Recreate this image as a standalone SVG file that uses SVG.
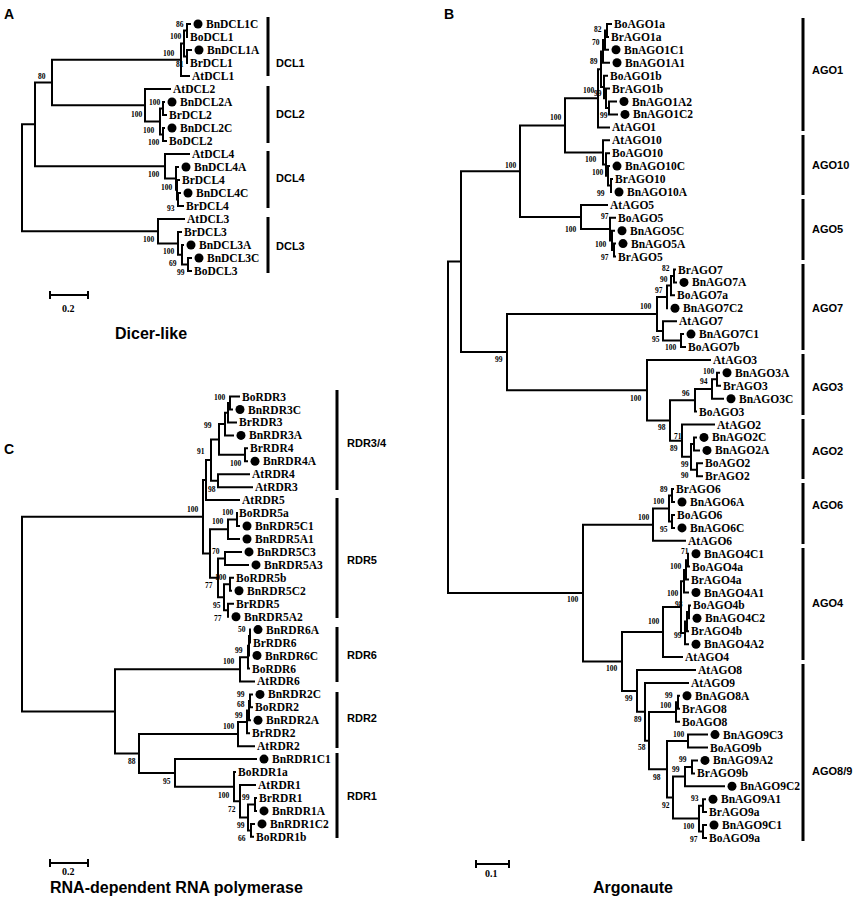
<svg xmlns="http://www.w3.org/2000/svg" width="856" height="900" viewBox="0 0 856 900">
<style>
.br{stroke:#000;stroke-width:2;fill:none;stroke-linecap:square}
.bar{stroke:#000;stroke-width:3}
.sc{stroke:#000;stroke-width:2;fill:none}
.t{font-family:"Liberation Serif","Times New Roman",serif;font-weight:bold;font-size:11.5px;fill:#000}
.b{font-family:"Liberation Serif","Times New Roman",serif;font-weight:bold;font-size:7.5px;fill:#000}
.s{font-family:"Liberation Serif","Times New Roman",serif;font-weight:bold;font-size:10px;fill:#000}
.c{font-family:"Liberation Sans",Arial,sans-serif;font-weight:bold;font-size:11px;fill:#000}
.h{font-family:"Liberation Sans",Arial,sans-serif;font-weight:bold;font-size:16px;fill:#000}
.p{font-family:"Liberation Sans",Arial,sans-serif;font-weight:bold;font-size:14px;fill:#000}
circle{fill:#000}
</style>
<rect width="856" height="900" fill="#fff"/>

<!-- Panel A -->
<g id="panelA">
<text class="p" x="4" y="19">A</text>
<g id="A-connectors">
<path class="br" d="M22 124.3V231.2M22 124.3H35M22 231.2H158
M35 82.5V166.2M35 82.5H52M35 166.2H165
M52 59.8V105.3M52 59.8H181M52 105.3H145
M181 43.5V76M181 43.5H184M181 76H189
M184 30.5V56.5M184 30.5H187M184 56.5H187
M187 24V37M187 24H190
M187 50V63M187 50H191
M145 89V121.5M145 89H170M145 121.5H160
M160 108.5V134.5M160 108.5H163M160 134.5H163
M163 102V115M163 102H164M163 115H166
M163 128V141M163 128H164M163 141H166
M165 154V178.4M165 154H189M165 178.4H176
M176 167V189.8M176 167H178M176 189.8H177
M177 180V199.5M177 180H179M177 199.5H178
M178 193V206M178 193H180M178 206H183
M158 219V243.4M158 219H184M158 243.4H178
M178 232V254.8M178 232H181M178 254.8H182
M182 245V264.5M182 245H183M182 264.5H188
M188 258V271M188 258H191M188 271H191"/>
</g>
<g id="A-taxa">
<g id="BnDCL1C"><circle cx="198" cy="24" r="4.5"/><text class="t" x="206" y="28">BnDCL1C</text></g>
<g id="BoDCL1"><text class="t" x="190" y="41">BoDCL1</text></g>
<g id="BnDCL1A"><circle cx="199" cy="50" r="4.5"/><text class="t" x="207" y="54">BnDCL1A</text></g>
<g id="BrDCL1"><text class="t" x="190" y="67">BrDCL1</text></g>
<g id="AtDCL1"><text class="t" x="192" y="80">AtDCL1</text></g>
<g id="AtDCL2"><text class="t" x="173" y="93">AtDCL2</text></g>
<g id="BnDCL2A"><circle cx="172" cy="102" r="4.5"/><text class="t" x="180" y="106">BnDCL2A</text></g>
<g id="BrDCL2"><text class="t" x="169" y="119">BrDCL2</text></g>
<g id="BnDCL2C"><circle cx="172" cy="128" r="4.5"/><text class="t" x="180" y="132">BnDCL2C</text></g>
<g id="BoDCL2"><text class="t" x="169" y="145">BoDCL2</text></g>
<g id="AtDCL4"><text class="t" x="192" y="158">AtDCL4</text></g>
<g id="BnDCL4A"><circle cx="186" cy="167" r="4.5"/><text class="t" x="194" y="171">BnDCL4A</text></g>
<g id="BrDCL4-1"><text class="t" x="182" y="184">BrDCL4</text></g>
<g id="BnDCL4C"><circle cx="188" cy="193" r="4.5"/><text class="t" x="196" y="197">BnDCL4C</text></g>
<g id="BrDCL4-2"><text class="t" x="186" y="210">BrDCL4</text></g>
<g id="AtDCL3"><text class="t" x="187" y="223">AtDCL3</text></g>
<g id="BrDCL3"><text class="t" x="184" y="236">BrDCL3</text></g>
<g id="BnDCL3A"><circle cx="191" cy="245" r="4.5"/><text class="t" x="199" y="249">BnDCL3A</text></g>
<g id="BnDCL3C"><circle cx="199" cy="258" r="4.5"/><text class="t" x="207" y="262">BnDCL3C</text></g>
<g id="BoDCL3"><text class="t" x="194" y="275">BoDCL3</text></g>
</g>
<g id="A-bootstrap">
<text class="b" x="38" y="79">80</text>
<text class="b" x="163" y="56">100</text>
<text class="b" x="170" y="39">100</text>
<text class="b" x="176" y="27">86</text>
<text class="b" x="176" y="67">81</text>
<text class="b" x="131" y="117">100</text>
<text class="b" x="149" y="105">100</text>
<text class="b" x="143" y="133">100</text>
<text class="b" x="148" y="145">100</text>
<text class="b" x="148" y="177">100</text>
<text class="b" x="161" y="190">100</text>
<text class="b" x="167" y="211">93</text>
<text class="b" x="143" y="242">100</text>
<text class="b" x="163" y="254">100</text>
<text class="b" x="169" y="266">69</text>
<text class="b" x="177" y="275">99</text>
</g>
<g id="A-clades">
<path class="bar" d="M268 17V76M268 86V143M268 151V208M268 217V273"/>
<text class="c" x="276" y="67">DCL1</text>
<text class="c" x="276" y="118">DCL2</text>
<text class="c" x="276" y="182">DCL4</text>
<text class="c" x="276" y="250">DCL3</text>
</g>
<g id="A-scale">
<path class="sc" d="M50 295H88M50 291V299M88 291V299"/>
<text class="s" x="62" y="312">0.2</text>
</g>
<text class="h" x="115" y="339">Dicer-like</text>
</g>

<!-- Panel B -->
<g id="panelB">
<text class="p" x="444" y="19">B</text>
<g id="B-connectors">
<path class="br" d="M448 261.6V593.1M448 261.6H461M448 593.1H583
M461 171.2V352.1M461 171.2H520M461 352.1H507
M520 125.4V217M520 125.4H565M520 217H581
M565 98.3V152.4M565 98.3H598M565 152.4H603
M598 69.2V127.4M598 69.2H601M598 127.4H609
M601 51.5V87M601 51.5H603M601 87H604
M603 40.1V62.8M603 40.1H605M603 62.8H609
M605 30.5V49.8M605 30.5H607M605 49.8H608
M607 24V36.9M607 24H611M607 36.9H608
M604 75.7V98.3M604 75.7H607M604 98.3H606
M606 88.6V108M606 88.6H609M606 108H609
M609 101.5V114.4M609 101.5H616M609 114.4H617
M603 140.3V164.5M603 140.3H609M603 164.5H606
M606 153.2V175.8M606 153.2H609M606 175.8H608
M608 166.1V185.5M608 166.1H609M608 185.5H611
M611 179V192M611 179H612
M581 204.9V229.1M581 204.9H607M581 229.1H610
M610 217.8V240.4M610 217.8H615M610 240.4H612
M612 230.7V250.1M612 230.7H614M612 250.1H614
M614 243.6V256.6M614 243.6H615M614 256.6H615
M507 313.9V390.2M507 313.9H657M507 390.2H647
M657 296.9V330.9M657 296.9H667M657 330.9H663
M667 285.6V308.2M667 285.6H671
M671 276V295.3M671 276H674M671 295.3H674
M674 269.5V282.4M674 269.5H675M674 282.4H676
M663 321.2V340.6M663 321.2H676M663 340.6H681
M681 334.1V347M681 334.1H683M681 347H685
M647 359.9V420.5M647 359.9H710M647 420.5H670
M670 400.3V440.7M670 400.3H695M670 440.7H682
M695 389V411.6M695 389H712M695 411.6H696
M712 379.3V398.7M712 379.3H717M712 398.7H723
M717 372.8V385.8M717 372.8H719M717 385.8H720
M682 424.5V456.8M682 424.5H714M682 456.8H691
M691 443.9V469.8M691 443.9H694M691 469.8H697
M694 437.4V450.4M694 437.4H696M694 450.4H699
M697 463.3V476.2M697 463.3H702M697 476.2H702
M583 524.7V661.5M583 524.7H653M583 661.5H622
M653 508.5V540.8M653 508.5H669M653 540.8H685
M669 495.6V521.5M669 495.6H672M669 521.5H672
M672 489.1V502M672 489.1H673M672 502H674
M672 515V527.9M672 515H674M672 527.9H674
M622 632.1V690.9M622 632.1H663M622 690.9H637
M663 607V657.1M663 607H681M663 657.1H682
M681 581.2V632.9M681 581.2H684M681 632.9H685
M684 569.9V592.5M684 569.9H686M684 592.5H688
M686 560.2V579.6M686 560.2H688M686 579.6H688
M688 553.7V566.6M688 566.6H689
M685 621.5V644.2M685 621.5H687M685 644.2H688
M687 611.9V631.2M687 611.9H689M687 631.2H688
M689 605.4V618.3M689 605.4H690
M637 670V711.8M637 670H695M637 711.8H645
M645 682.9V740.7M645 682.9H688M645 740.7H649
M649 712V769.3M649 712H676M649 769.3H667
M676 702.3V721.7M676 702.3H678M676 721.7H679
M678 695.8V708.8M678 695.8H679M678 708.8H679
M667 741.1V797.6M667 741.1H688M667 797.6H673
M688 734.6V747.5M688 734.6H707M688 747.5H707
M673 776.6V818.6M673 776.6H685M673 818.6H699
M685 766.9V786.3M685 766.9H692M685 786.3H724
M692 760.4V773.4M692 760.4H697M692 773.4H694
M699 805.7V831.5M699 805.7H703M699 831.5H703
M703 799.2V812.1M703 799.2H705M703 812.1H706
M703 825V838M703 825H706M703 838H706"/>
</g>
<g id="B-taxa">
<g id="BoAGO1a"><text class="t" x="614" y="28">BoAGO1a</text></g>
<g id="BrAGO1a"><text class="t" x="611" y="40.9">BrAGO1a</text></g>
<g id="BnAGO1C1"><circle cx="616" cy="49.8" r="4.5"/><text class="t" x="624" y="53.8">BnAGO1C1</text></g>
<g id="BnAGO1A1"><circle cx="617" cy="62.8" r="4.5"/><text class="t" x="625" y="66.8">BnAGO1A1</text></g>
<g id="BoAGO1b"><text class="t" x="610" y="79.7">BoAGO1b</text></g>
<g id="BrAGO1b"><text class="t" x="612" y="92.6">BrAGO1b</text></g>
<g id="BnAGO1A2"><circle cx="624" cy="101.5" r="4.5"/><text class="t" x="632" y="105.5">BnAGO1A2</text></g>
<g id="BnAGO1C2"><circle cx="625" cy="114.4" r="4.5"/><text class="t" x="633" y="118.4">BnAGO1C2</text></g>
<g id="AtAGO1"><text class="t" x="612" y="131.4">AtAGO1</text></g>
<g id="AtAGO10"><text class="t" x="612" y="144.3">AtAGO10</text></g>
<g id="BoAGO10"><text class="t" x="612" y="157.2">BoAGO10</text></g>
<g id="BnAGO10C"><circle cx="617" cy="166.1" r="4.5"/><text class="t" x="625" y="170.1">BnAGO10C</text></g>
<g id="BrAGO10"><text class="t" x="615" y="183">BrAGO10</text></g>
<g id="BnAGO10A"><circle cx="619" cy="192" r="4.5"/><text class="t" x="627" y="196">BnAGO10A</text></g>
<g id="AtAGO5"><text class="t" x="610" y="208.9">AtAGO5</text></g>
<g id="BoAGO5"><text class="t" x="618" y="221.8">BoAGO5</text></g>
<g id="BnAGO5C"><circle cx="622" cy="230.7" r="4.5"/><text class="t" x="630" y="234.7">BnAGO5C</text></g>
<g id="BnAGO5A"><circle cx="623" cy="243.6" r="4.5"/><text class="t" x="631" y="247.6">BnAGO5A</text></g>
<g id="BrAGO5"><text class="t" x="618" y="260.6">BrAGO5</text></g>
<g id="BrAGO7"><text class="t" x="678" y="273.5">BrAGO7</text></g>
<g id="BnAGO7A"><circle cx="684" cy="282.4" r="4.5"/><text class="t" x="692" y="286.4">BnAGO7A</text></g>
<g id="BoAGO7a"><text class="t" x="677" y="299.3">BoAGO7a</text></g>
<g id="BnAGO7C2"><circle cx="675" cy="308.2" r="4.5"/><text class="t" x="683" y="312.2">BnAGO7C2</text></g>
<g id="AtAGO7"><text class="t" x="679" y="325.2">AtAGO7</text></g>
<g id="BnAGO7C1"><circle cx="691" cy="334.1" r="4.5"/><text class="t" x="699" y="338.1">BnAGO7C1</text></g>
<g id="BoAGO7b"><text class="t" x="688" y="351">BoAGO7b</text></g>
<g id="AtAGO3"><text class="t" x="713" y="363.9">AtAGO3</text></g>
<g id="BnAGO3A"><circle cx="727" cy="372.8" r="4.5"/><text class="t" x="735" y="376.8">BnAGO3A</text></g>
<g id="BrAGO3"><text class="t" x="723" y="389.8">BrAGO3</text></g>
<g id="BnAGO3C"><circle cx="731" cy="398.7" r="4.5"/><text class="t" x="739" y="402.7">BnAGO3C</text></g>
<g id="BoAGO3"><text class="t" x="699" y="415.6">BoAGO3</text></g>
<g id="AtAGO2"><text class="t" x="717" y="428.5">AtAGO2</text></g>
<g id="BnAGO2C"><circle cx="704" cy="437.4" r="4.5"/><text class="t" x="712" y="441.4">BnAGO2C</text></g>
<g id="BnAGO2A"><circle cx="707" cy="450.4" r="4.5"/><text class="t" x="715" y="454.4">BnAGO2A</text></g>
<g id="BoAGO2"><text class="t" x="705" y="467.3">BoAGO2</text></g>
<g id="BrAGO2"><text class="t" x="705" y="480.2">BrAGO2</text></g>
<g id="BrAGO6"><text class="t" x="676" y="493.1">BrAGO6</text></g>
<g id="BnAGO6A"><circle cx="682" cy="502" r="4.5"/><text class="t" x="690" y="506">BnAGO6A</text></g>
<g id="BoAGO6"><text class="t" x="677" y="519">BoAGO6</text></g>
<g id="BnAGO6C"><circle cx="682" cy="527.9" r="4.5"/><text class="t" x="690" y="531.9">BnAGO6C</text></g>
<g id="AtAGO6"><text class="t" x="688" y="544.8">AtAGO6</text></g>
<g id="BnAGO4C1"><circle cx="696" cy="553.7" r="4.5"/><text class="t" x="704" y="557.7">BnAGO4C1</text></g>
<g id="BoAGO4a"><text class="t" x="692" y="570.6">BoAGO4a</text></g>
<g id="BrAGO4a"><text class="t" x="691" y="583.6">BrAGO4a</text></g>
<g id="BnAGO4A1"><circle cx="696" cy="592.5" r="4.5"/><text class="t" x="704" y="596.5">BnAGO4A1</text></g>
<g id="BoAGO4b"><text class="t" x="693" y="609.4">BoAGO4b</text></g>
<g id="BnAGO4C2"><circle cx="697" cy="618.3" r="4.5"/><text class="t" x="705" y="622.3">BnAGO4C2</text></g>
<g id="BrAGO4b"><text class="t" x="691" y="635.2">BrAGO4b</text></g>
<g id="BnAGO4A2"><circle cx="696" cy="644.2" r="4.5"/><text class="t" x="704" y="648.2">BnAGO4A2</text></g>
<g id="AtAGO4"><text class="t" x="685" y="661.1">AtAGO4</text></g>
<g id="AtAGO8"><text class="t" x="698" y="674">AtAGO8</text></g>
<g id="AtAGO9"><text class="t" x="691" y="686.9">AtAGO9</text></g>
<g id="BnAGO8A"><circle cx="687" cy="695.8" r="4.5"/><text class="t" x="695" y="699.8">BnAGO8A</text></g>
<g id="BrAGO8"><text class="t" x="682" y="712.8">BrAGO8</text></g>
<g id="BoAGO8"><text class="t" x="682" y="725.7">BoAGO8</text></g>
<g id="BnAGO9C3"><circle cx="715" cy="734.6" r="4.5"/><text class="t" x="723" y="738.6">BnAGO9C3</text></g>
<g id="BoAGO9b"><text class="t" x="710" y="751.5">BoAGO9b</text></g>
<g id="BnAGO9A2"><circle cx="705" cy="760.4" r="4.5"/><text class="t" x="713" y="764.4">BnAGO9A2</text></g>
<g id="BrAGO9b"><text class="t" x="697" y="777.4">BrAGO9b</text></g>
<g id="BnAGO9C2"><circle cx="732" cy="786.3" r="4.5"/><text class="t" x="740" y="790.3">BnAGO9C2</text></g>
<g id="BnAGO9A1"><circle cx="713" cy="799.2" r="4.5"/><text class="t" x="721" y="803.2">BnAGO9A1</text></g>
<g id="BrAGO9a"><text class="t" x="709" y="816.1">BrAGO9a</text></g>
<g id="BnAGO9C1"><circle cx="714" cy="825" r="4.5"/><text class="t" x="722" y="829">BnAGO9C1</text></g>
<g id="BoAGO9a"><text class="t" x="709" y="842">BoAGO9a</text></g>
</g>
<g id="B-bootstrap">
<text class="b" x="594" y="32">82</text>
<text class="b" x="592" y="45">70</text>
<text class="b" x="590" y="64">89</text>
<text class="b" x="583" y="93">100</text>
<text class="b" x="594" y="96">99</text>
<text class="b" x="600" y="118">99</text>
<text class="b" x="550" y="120">100</text>
<text class="b" x="505" y="168">100</text>
<text class="b" x="585" y="162">100</text>
<text class="b" x="592" y="175">100</text>
<text class="b" x="597" y="196">99</text>
<text class="b" x="601" y="219">97</text>
<text class="b" x="565" y="232">100</text>
<text class="b" x="595" y="247">100</text>
<text class="b" x="601" y="260">97</text>
<text class="b" x="662" y="271">82</text>
<text class="b" x="660" y="282">90</text>
<text class="b" x="655" y="293">97</text>
<text class="b" x="640" y="309">100</text>
<text class="b" x="652" y="342">95</text>
<text class="b" x="665" y="350">100</text>
<text class="b" x="495" y="362">99</text>
<text class="b" x="703" y="374">100</text>
<text class="b" x="700" y="384">94</text>
<text class="b" x="682" y="396">96</text>
<text class="b" x="630" y="401">100</text>
<text class="b" x="658" y="430">98</text>
<text class="b" x="674" y="439">71</text>
<text class="b" x="670" y="451">89</text>
<text class="b" x="681" y="467">99</text>
<text class="b" x="681" y="478">90</text>
<text class="b" x="660" y="492">89</text>
<text class="b" x="653" y="504">100</text>
<text class="b" x="638" y="520">100</text>
<text class="b" x="660" y="532">95</text>
<text class="b" x="681" y="554">71</text>
<text class="b" x="670" y="569">100</text>
<text class="b" x="667" y="596">100</text>
<text class="b" x="567" y="602">100</text>
<text class="b" x="675" y="607">98</text>
<text class="b" x="648" y="624">100</text>
<text class="b" x="674" y="638">99</text>
<text class="b" x="606" y="671">100</text>
<text class="b" x="625" y="701">99</text>
<text class="b" x="665" y="698">99</text>
<text class="b" x="660" y="708">100</text>
<text class="b" x="634" y="722">89</text>
<text class="b" x="673" y="737">100</text>
<text class="b" x="638" y="750">58</text>
<text class="b" x="679" y="762">99</text>
<text class="b" x="672" y="772">99</text>
<text class="b" x="653" y="780">98</text>
<text class="b" x="662" y="808">92</text>
<text class="b" x="691" y="801">93</text>
<text class="b" x="683" y="829">100</text>
<text class="b" x="690" y="842">97</text>
</g>
<g id="B-clades">
<path class="bar" d="M803 18V131M803 135V195M803 199V260M803 264V350M803 354V415M803 419V479M803 483V544M803 548V660M803 664V841"/>
<text class="c" x="812" y="74">AGO1</text>
<text class="c" x="812" y="169">AGO10</text>
<text class="c" x="812" y="233">AGO5</text>
<text class="c" x="812" y="312">AGO7</text>
<text class="c" x="812" y="391">AGO3</text>
<text class="c" x="812" y="455">AGO2</text>
<text class="c" x="812" y="509">AGO6</text>
<text class="c" x="812" y="607">AGO4</text>
<text class="c" x="812" y="775">AGO8/9</text>
</g>
<g id="B-scale">
<path class="sc" d="M476 864H509M476 860V868M509 860V868"/>
<text class="s" x="485" y="877">0.1</text>
</g>
<text class="h" x="593" y="893">Argonaute</text>
</g>

<!-- Panel C -->
<g id="panelC">
<text class="p" x="4" y="454">C</text>
<g id="C-connectors">
<path class="br" d="M22 516.8V711.4M22 516.8H203M22 711.4H115
M203 480.1V553.6M203 480.1H206M203 553.6H210
M206 460.1V500.1M206 460.1H211M206 500.1H239
M211 439.4V480.7M211 439.4H219M211 480.7H218
M219 424.1V454.8M219 424.1H225M219 454.8H245
M225 412.7V435.4M225 412.7H228M225 435.4H233
M228 403V422.4M228 403H230M228 422.4H236
M230 396.5V409.5M230 396.5H239M230 409.5H232
M245 448.3V461.3M245 448.3H247M245 461.3H247
M218 474.2V487.2M218 474.2H249M218 487.2H252
M210 529.3V577.8M210 529.3H228M210 577.8H218
M228 519.6V539M228 519.6H237M228 539H239
M237 513.1V526M237 526H239
M218 558.4V597.3M218 558.4H225M218 597.3H224
M225 551.9V564.9M225 551.9H241M225 564.9H248
M224 584.3V610.2M224 584.3H230M224 610.2H228
M230 577.8V590.8M230 577.8H233M230 590.8H231
M228 603.7V616.7M228 603.7H233
M115 669.3V753.5M115 669.3H240M115 753.5H139
M240 657.2V681.4M240 657.2H248M240 681.4H254
M248 645.8V668.5M248 645.8H249M248 668.5H249
M249 636.1V655.5M249 636.1H250
M250 629.6V642.6
M139 734.1V772.9M139 734.1H238M139 772.9H175
M238 721.9V746.2M238 721.9H247M238 746.2H254
M247 710.6V733.2M247 710.6H249M247 733.2H249
M249 700.9V720.3M249 700.9H250M249 720.3H250
M250 694.4V707.3M250 694.4H252M250 707.3H252
M175 759.1V786.7M175 759.1H256M175 786.7H234
M234 772.1V801.2M234 772.1H235M234 801.2H240
M240 785V817.4M240 785H255M240 817.4H248
M248 804.5V830.4M248 804.5H255M248 830.4H251
M255 798V810.9M255 798H256M255 810.9H256
M251 823.9V836.8M251 823.9H254M251 836.8H253"/>
</g>
<g id="C-taxa">
<g id="BoRDR3"><text class="t" x="242" y="400.5">BoRDR3</text></g>
<g id="BnRDR3C"><circle cx="240" cy="409.5" r="4.5"/><text class="t" x="248" y="413.5">BnRDR3C</text></g>
<g id="BrRDR3"><text class="t" x="239" y="426.4">BrRDR3</text></g>
<g id="BnRDR3A"><circle cx="241" cy="435.4" r="4.5"/><text class="t" x="249" y="439.4">BnRDR3A</text></g>
<g id="BrRDR4"><text class="t" x="250" y="452.3">BrRDR4</text></g>
<g id="BnRDR4A"><circle cx="255" cy="461.3" r="4.5"/><text class="t" x="263" y="465.3">BnRDR4A</text></g>
<g id="AtRDR4"><text class="t" x="252" y="478.2">AtRDR4</text></g>
<g id="AtRDR3"><text class="t" x="255" y="491.2">AtRDR3</text></g>
<g id="AtRDR5"><text class="t" x="242" y="504.1">AtRDR5</text></g>
<g id="BoRDR5a"><text class="t" x="239" y="517.1">BoRDR5a</text></g>
<g id="BnRDR5C1"><circle cx="247" cy="526" r="4.5"/><text class="t" x="255" y="530">BnRDR5C1</text></g>
<g id="BnRDR5A1"><circle cx="247" cy="539" r="4.5"/><text class="t" x="255" y="543">BnRDR5A1</text></g>
<g id="BnRDR5C3"><circle cx="249" cy="551.9" r="4.5"/><text class="t" x="257" y="555.9">BnRDR5C3</text></g>
<g id="BnRDR5A3"><circle cx="256" cy="564.9" r="4.5"/><text class="t" x="264" y="568.9">BnRDR5A3</text></g>
<g id="BoRDR5b"><text class="t" x="236" y="581.8">BoRDR5b</text></g>
<g id="BnRDR5C2"><circle cx="239" cy="590.8" r="4.5"/><text class="t" x="247" y="594.8">BnRDR5C2</text></g>
<g id="BrRDR5"><text class="t" x="236" y="607.7">BrRDR5</text></g>
<g id="BnRDR5A2"><circle cx="236" cy="616.7" r="4.5"/><text class="t" x="244" y="620.7">BnRDR5A2</text></g>
<g id="BnRDR6A"><circle cx="258" cy="629.6" r="4.5"/><text class="t" x="266" y="633.6">BnRDR6A</text></g>
<g id="BrRDR6"><text class="t" x="253" y="646.6">BrRDR6</text></g>
<g id="BnRDR6C"><circle cx="257" cy="655.5" r="4.5"/><text class="t" x="265" y="659.5">BnRDR6C</text></g>
<g id="BoRDR6"><text class="t" x="252" y="672.5">BoRDR6</text></g>
<g id="AtRDR6"><text class="t" x="257" y="685.4">AtRDR6</text></g>
<g id="BnRDR2C"><circle cx="260" cy="694.4" r="4.5"/><text class="t" x="268" y="698.4">BnRDR2C</text></g>
<g id="BoRDR2"><text class="t" x="255" y="711.3">BoRDR2</text></g>
<g id="BnRDR2A"><circle cx="258" cy="720.3" r="4.5"/><text class="t" x="266" y="724.3">BnRDR2A</text></g>
<g id="BrRDR2"><text class="t" x="252" y="737.2">BrRDR2</text></g>
<g id="AtRDR2"><text class="t" x="257" y="750.2">AtRDR2</text></g>
<g id="BnRDR1C1"><circle cx="264" cy="759.1" r="4.5"/><text class="t" x="272" y="763.1">BnRDR1C1</text></g>
<g id="BoRDR1a"><text class="t" x="238" y="776.1">BoRDR1a</text></g>
<g id="AtRDR1"><text class="t" x="258" y="789">AtRDR1</text></g>
<g id="BrRDR1"><text class="t" x="259" y="802">BrRDR1</text></g>
<g id="BnRDR1A"><circle cx="264" cy="810.9" r="4.5"/><text class="t" x="272" y="814.9">BnRDR1A</text></g>
<g id="BnRDR1C2"><circle cx="262" cy="823.9" r="4.5"/><text class="t" x="270" y="827.9">BnRDR1C2</text></g>
<g id="BoRDR1b"><text class="t" x="256" y="840.8">BoRDR1b</text></g>
</g>
<g id="C-bootstrap">
<text class="b" x="214" y="400">100</text>
<text class="b" x="204" y="428">99</text>
<text class="b" x="197" y="454">91</text>
<text class="b" x="230" y="466">100</text>
<text class="b" x="208" y="492">98</text>
<text class="b" x="187" y="512">100</text>
<text class="b" x="222" y="515">100</text>
<text class="b" x="212" y="524">100</text>
<text class="b" x="212" y="554">70</text>
<text class="b" x="215" y="580">100</text>
<text class="b" x="205" y="588">77</text>
<text class="b" x="213" y="608">95</text>
<text class="b" x="214" y="621">77</text>
<text class="b" x="238" y="632">50</text>
<text class="b" x="235" y="653">99</text>
<text class="b" x="223" y="664">100</text>
<text class="b" x="237" y="697">99</text>
<text class="b" x="237" y="707">68</text>
<text class="b" x="235" y="718">99</text>
<text class="b" x="223" y="729">100</text>
<text class="b" x="128" y="764">88</text>
<text class="b" x="163" y="784">95</text>
<text class="b" x="218" y="798">100</text>
<text class="b" x="242" y="800">99</text>
<text class="b" x="228" y="812">72</text>
<text class="b" x="237" y="828">99</text>
<text class="b" x="238" y="841">66</text>
</g>
<g id="C-clades">
<path class="bar" d="M337 390V490M337 498V618M337 627V682M337 692V748M337 753V838"/>
<text class="c" x="347" y="447">RDR3/4</text>
<text class="c" x="347" y="564">RDR5</text>
<text class="c" x="347" y="659">RDR6</text>
<text class="c" x="347" y="722">RDR2</text>
<text class="c" x="347" y="800">RDR1</text>
</g>
<g id="C-scale">
<path class="sc" d="M50 863H88M50 859V867M88 859V867"/>
<text class="s" x="62" y="875">0.2</text>
</g>
<text class="h" x="50" y="893">RNA-dependent RNA polymerase</text>
</g>
</svg>
